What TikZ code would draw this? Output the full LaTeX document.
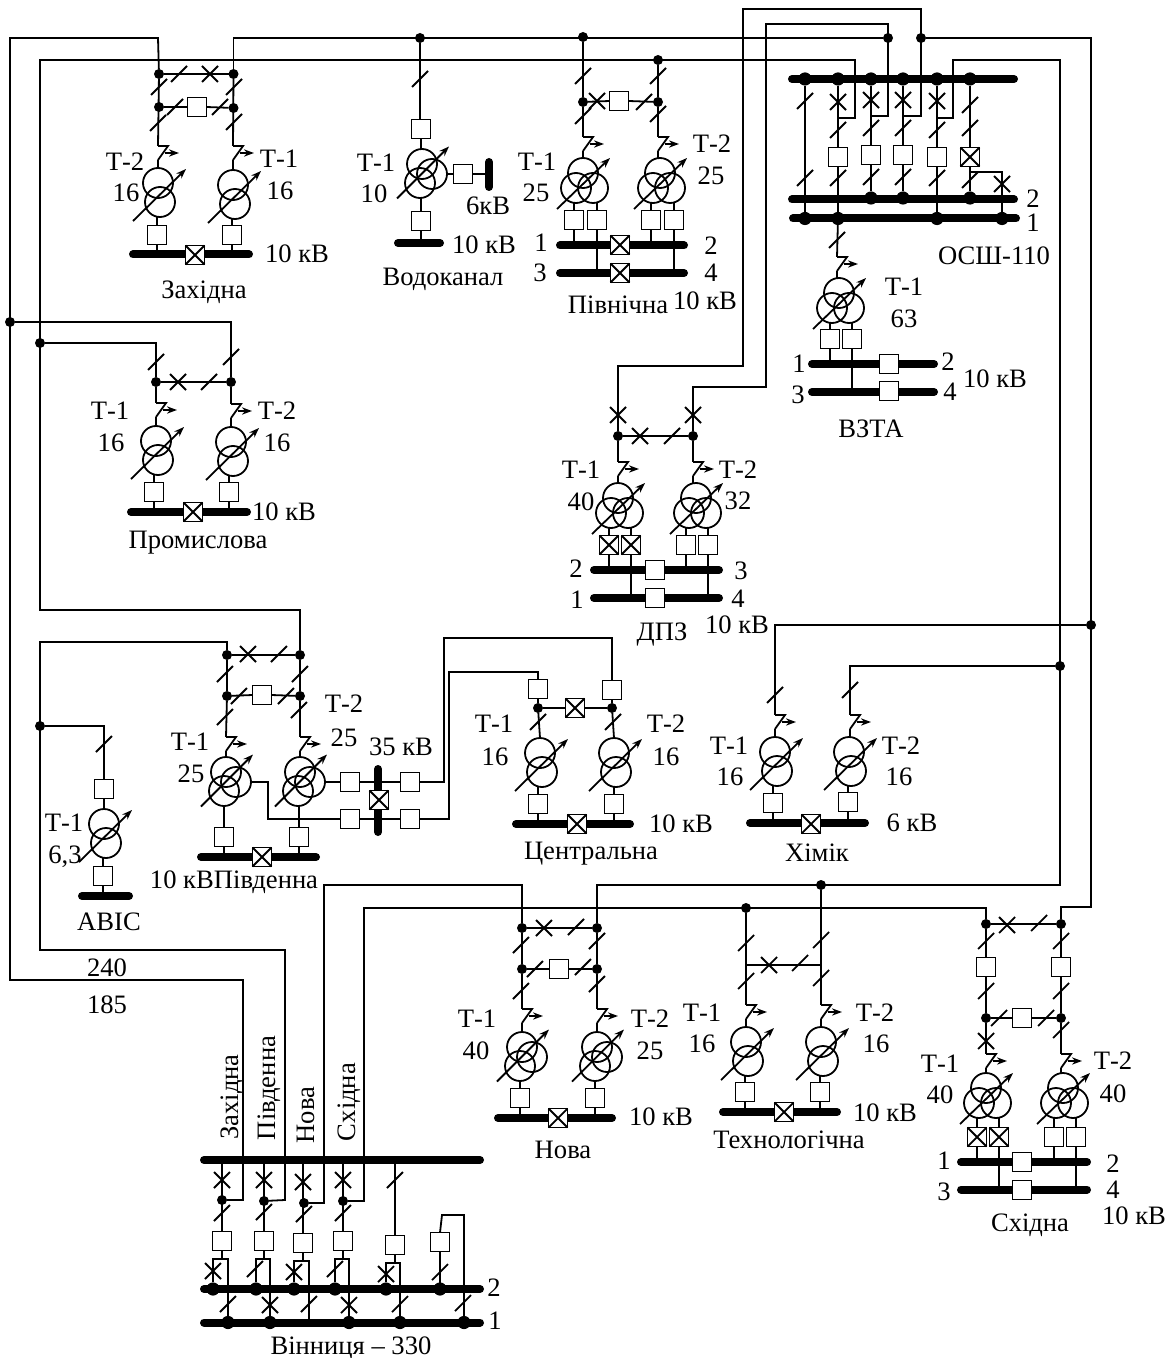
\documentclass[tikz,border=0pt]{standalone}
\usepackage{fontspec}
\setmainfont{Liberation Serif}
\usetikzlibrary{arrows.meta}

\tikzset{
	wire/.style={line width=.9pt},
	bus/.style={line width=4pt,line cap=round},
	tap/.style={wire,-{Stealth[length=5pt,width=3.6pt]}},
	breaker/.style={draw,line width=.9pt,fill=white,minimum size=9.5pt,inner sep=0pt,outer sep=0pt},
	winding/.style={draw,circle,line width=.9pt,minimum size=15pt,inner sep=0pt,outer sep=0pt},
	junction/.style={circle,fill=black,minimum size=5pt,inner sep=0pt,outer sep=0pt},
	busdot/.style={circle,fill=black,minimum size=6.6pt,inner sep=0pt,outer sep=0pt},
	lbl/.style={font=\fontsize{13.3}{16}\selectfont,inner sep=0pt,text height=9pt,text depth=0pt}
}

\newcommand{\brk}[3]{\node[breaker] (#1) at (#2,#3) {};}
\newcommand{\xbrk}[3]{\node[breaker] (#1) at (#2,#3) {};
	\draw[wire] (#1.north west) -- (#1.south east) (#1.north east) -- (#1.south west);}
\newcommand{\jn}[3]{\node[junction] (#1) at (#2,#3) {};}
\newcommand{\dotb}[3]{\node[busdot] (#1) at (#2,#3) {};}
\newcommand{\disc}[2]{\draw[wire] (#1-8,#2+8) -- (#1+8,#2-8);}
\newcommand{\crs}[2]{\draw[wire] (#1-8,#2+8) -- (#1+8,#2-8) (#1-8,#2-8) -- (#1+8,#2+8);}
\newcommand{\busbar}[4]{\coordinate (#1) at (#2,#4); \draw[bus] (#2+4,#4) -- (#3-4,#4);}
% vertical stub from a to the level of b
\newcommand{\drop}[2]{\draw[wire] (#1) -- (#1 |- #2);}
% earthing switch symbol on the way down to a transformer
\newcommand{\qsw}[3]{\coordinate (#1) at (#2,#3); \coordinate (#1e) at (#2,#3+14);
	\draw[wire] (#1) -- (#2+10,#3) -- (#1e);
	\draw[tap] (#2+7,#3+7) -- (#2+21,#3+7);}
\newcommand{\twotr}[3]{\node[winding] (#1) at (#2,#3) {}; \node[winding] (#1b) at (#2+2,#3+19) {};
	\draw[tap] (#2-25,#3+38) -- (#2+28,#3-14);}
\newcommand{\threetr}[3]{\node[winding] (#1) at (#2,#3) {}; \node[winding] (#1b) at (#2-7,#3+15) {};
	\node[winding] (#1r) at (#2+10,#3+15) {};
	\draw[tap] (#2-26,#3+36) -- (#2+27,#3-15);}
\newcommand{\autotr}[3]{\node[winding] (#1) at (#2,#3) {}; \node[winding] (#1b) at (#2-2,#3+19) {};
	\node[winding] (#1r) at (#2+10,#3+10) {};
	\draw[tap] (#2-25,#3+34.5) -- (#2+27,#3-17.5);}
\newcommand{\fork}[6]{\draw[wire] (#1.south) -- (#1.south |- 0,#4);
	\draw[wire] (#5) -- (#2,#4) -- (#3,#4) -- (#6);}

\begin{document}
\begin{tikzpicture}[x=.5pt,y=-.5pt]
	\useasboundingbox (0,0) rectangle (1171,1358);

	% Zakhidna
	\busbar{zhb}{129}{253}{254.5}
	\xbrk{zhq}{195}{255}
	\brk{zhb1}{157}{235}
	\brk{zhb2}{232}{235}
	\brk{zhb3}{197}{107}
	\twotr{zhT2}{158}{183}
	\twotr{zhT1}{233}{185}
	\qsw{zhs2}{158}{146}
	\qsw{zhs1}{233}{146}
	\jn{zhj1}{159}{74}
	\jn{zhj2}{233.5}{74}
	\jn{zhj3}{159}{107}
	\jn{zhj4}{233.5}{108}
	\draw[wire] (zhj1) -- (zhj2);
	\draw[wire] (zhj1) -- (zhs2) (zhj2) -- (zhs1) (zhs2e) -- (zhT2.north) (zhs1e) -- (zhT1.north);
	\draw[wire] (zhj3) -- (zhb3.west) (zhb3.east) -- (zhj4);
	\drop{zhb1.north}{zhT2b.south} \drop{zhb2.north}{zhT1b.south}
	\drop{zhb1.south}{zhb} \drop{zhb2.south}{zhb}
	\disc{179}{74} \crs{210}{74} \disc{159}{87} \disc{158}{123}
	\disc{175}{107} \disc{220}{107} \disc{234}{87} \disc{234}{122}
	\node[lbl] (zhl1) at (125,162) {Т-2};
	\node[lbl] (zhl2) at (126,193) {16};
	\node[lbl] (zhl3) at (279,159) {Т-1};
	\node[lbl] (zhl4) at (280,191) {16};
	\node[lbl] (zhl5) at (297,254) {10 кВ};
	\node[lbl] (zhl6) at (204,290) {Західна};

	% Vodokanal
	\busbar{vdb}{394}{444}{243}
	\draw[bus] (489,162) -- (489,187);
	\coordinate (vdb2) at (489,174);
	\brk{vdb1}{421}{129}
	\brk{vdb3}{421}{221}
	\brk{vdb4}{463}{174}
	\autotr{vdT1}{422}{164}
	\jn{vdj1}{420}{38}
	\drop{vdj1}{vdb1.north}
	\drop{vdb1.south}{vdT1.north}
	\drop{vdb3.north}{vdT1b.south}
	\drop{vdb3.south}{vdb}
	\draw[wire] (vdT1r.east) -- (vdb4.west) (vdb4.east) -- (vdb2);
	\disc{420}{79}
	\node[lbl] (vdl1) at (376,163) {Т-1};
	\node[lbl] (vdl2) at (374,194) {10};
	\node[lbl] (vdl3) at (488,206) {6кВ};
	\node[lbl] (vdl4) at (484,245) {10 кВ};
	\node[lbl] (vdl5) at (443,277) {Водоканал};

	% Pivnichna
	\busbar{pvb1}{556}{688}{245.5}
	\busbar{pvb2}{556}{688}{273}
	\xbrk{pvq1}{620}{245}
	\xbrk{pvq2}{620}{273}
	\brk{pva1}{574}{220}
	\brk{pva2}{597}{220}
	\brk{pva3}{651}{220}
	\brk{pva4}{674}{220}
	\brk{pva5}{619}{101}
	\threetr{pvT1}{583}{173}
	\threetr{pvT2}{660}{173}
	\qsw{pvs1}{583}{137}
	\qsw{pvs2}{658}{137}
	\jn{pvj1}{583}{37}
	\jn{pvj2}{658}{60}
	\jn{pvj3}{583}{102}
	\jn{pvj4}{658}{102}
	\draw[wire] (pvj1) -- (pvj3) -- (pvs1) (pvs1e) -- (pvs1e |- pvT1.north);
	\draw[wire] (pvj2) -- (pvj4) -- (pvs2) (pvs2e) -- (pvs2e |- pvT2.north);
	\draw[wire] (pvj3) -- (pva5.west) (pva5.east) -- (pvj4);
	\drop{pva1.north}{pvT1b.south} \drop{pva2.north}{pvT1r.south}
	\drop{pva3.north}{pvT2b.south} \drop{pva4.north}{pvT2r.south}
	\drop{pva1.south}{pvb1} \drop{pva2.south}{pvb2} \drop{pva3.south}{pvb1} \drop{pva4.south}{pvb2}
	\disc{583}{76} \disc{583}{116} \disc{658}{76} \disc{658}{114} \crs{597}{101} \disc{644}{102}
	\node[lbl] (pvl1) at (537,162) {Т-1};
	\node[lbl] (pvl2) at (536,193) {25};
	\node[lbl] (pvl3) at (712,144) {Т-2};
	\node[lbl] (pvl4) at (711,176) {25};
	\node[lbl] (pvl5) at (541,243) {1};
	\node[lbl] (pvl6) at (540,273) {3};
	\node[lbl] (pvl7) at (711,246) {2};
	\node[lbl] (pvl8) at (711,273) {4};
	\node[lbl] (pvl9) at (705,301) {10 кВ};
	\node[lbl] (pvl10) at (618,305) {Північна};

	% OSSh-110
	\busbar{osb0}{788}{1018}{79}
	\busbar{osb2}{788}{1018}{199.5}
	\busbar{osb1}{789}{1020}{218.5}
	\foreach \x in {805,838,871,903,937,970} {\dotb{osa\x}{\x}{79}}
	\foreach \x in {871,903,970} {\dotb{osc\x}{\x}{198}}
	\foreach \x in {805,838,937,1002} {\dotb{osd\x}{\x}{218.5}}
	\brk{osq1}{838}{157}
	\brk{osq2}{871}{155}
	\brk{osq3}{903}{155}
	\brk{osq4}{937}{157}
	\xbrk{osq5}{970}{157}
	\draw[wire] (osa805) -- (osd805);
	\draw[wire] (osa838) -- (osq1.north) (osq1.south) -- (osd838);
	\draw[wire] (osa871) -- (osq2.north) (osq2.south) -- (osc871);
	\draw[wire] (osa903) -- (osq3.north) (osq3.south) -- (osc903);
	\draw[wire] (osa937) -- (osq4.north) (osq4.south) -- (osd937);
	\draw[wire] (osa970) -- (osq5.north) (osq5.south) -- (osc970);
	\draw[wire] (970,172) -- (1002,172) -- (osd1002);
	\coordinate (osf1) at (838,118);
	\coordinate (osf2) at (871,116);
	\coordinate (osf3) at (903,116);
	\coordinate (osf4) at (937,118);
	\disc{805}{101} \disc{805}{178}
	\crs{838}{102} \disc{838}{130} \disc{838}{178}
	\crs{871}{100} \disc{871}{128} \disc{871}{177}
	\crs{903}{100} \disc{903}{128} \disc{903}{177}
	\crs{937}{101} \disc{937}{130} \disc{937}{178}
	\disc{970}{105} \disc{970}{128} \disc{970}{180} \crs{1002}{184}
	\node[lbl] (osl1) at (1033,199) {2};
	\node[lbl] (osl2) at (1033,223) {1};
	\node[lbl] (osl3) at (994,256) {ОСШ-110};

	% VZTA
	\busbar{vzb1}{808}{938}{364}
	\busbar{vzb2}{808}{938}{392}
	\brk{vzq1}{889}{364}
	\brk{vzq2}{889}{391}
	\brk{vza1}{830}{339}
	\brk{vza2}{852}{339}
	\threetr{vzT1}{839}{293}
	\qsw{vzs1}{837}{257}
	\draw[wire] (osd838) -- (vzs1);
	\draw[wire] (vzs1e) -- (vzs1e |- vzT1.north);
	\drop{vza1.north}{vzT1b.south} \drop{vza2.north}{vzT1r.south}
	\drop{vza1.south}{vzb1} \drop{vza2.south}{vzb2}
	\disc{837}{240}
	\node[lbl] (vzl1) at (904,287) {Т-1};
	\node[lbl] (vzl2) at (904,319) {63};
	\node[lbl] (vzl3) at (799,363) {1};
	\node[lbl] (vzl4) at (798,394) {3};
	\node[lbl] (vzl5) at (948,362) {2};
	\node[lbl] (vzl6) at (950,391) {4};
	\node[lbl] (vzl7) at (995,378) {10 кВ};
	\node[lbl] (vzl8) at (871,428) {ВЗТА};

	% DPZ
	\busbar{dpb1}{590}{723}{570}
	\busbar{dpb2}{590}{723}{598}
	\brk{dpq1}{655}{570}
	\brk{dpq2}{655}{598}
	\xbrk{dpa1}{609}{545}
	\xbrk{dpa2}{631}{545}
	\brk{dpa3}{686}{545}
	\brk{dpa4}{708}{545}
	\threetr{dpT1}{618}{498}
	\threetr{dpT2}{696}{498}
	\qsw{dps1}{618}{462}
	\qsw{dps2}{693}{462}
	\jn{dpj1}{618}{436}
	\jn{dpj2}{693}{436}
	\draw[wire] (dpj1) -- (dpj2);
	\draw[wire] (dpj1) -- (dps1) (dps1e) -- (dps1e |- dpT1.north);
	\draw[wire] (dpj2) -- (dps2) (dps2e) -- (dps2e |- dpT2.north);
	\drop{dpa1.north}{dpT1b.south} \drop{dpa2.north}{dpT1r.south}
	\drop{dpa3.north}{dpT2b.south} \drop{dpa4.north}{dpT2r.south}
	\drop{dpa1.south}{dpb1} \drop{dpa2.south}{dpb2} \drop{dpa3.south}{dpb1} \drop{dpa4.south}{dpb2}
	\crs{618}{415} \crs{693}{415} \crs{640}{436} \disc{672}{436}
	\node[lbl] (dpl1) at (581,469) {Т-1};
	\node[lbl] (dpl2) at (581,501) {40};
	\node[lbl] (dpl3) at (738,469) {Т-2};
	\node[lbl] (dpl4) at (738,500) {32};
	\node[lbl] (dpl5) at (576,568) {2};
	\node[lbl] (dpl6) at (741,570) {3};
	\node[lbl] (dpl7) at (577,599) {1};
	\node[lbl] (dpl8) at (738,598) {4};
	\node[lbl] (dpl9) at (737,624) {10 кВ};
	\node[lbl] (dpl10) at (662,631) {ДПЗ};

	% Promyslova
	\busbar{prb}{127}{251}{512}
	\xbrk{prq}{193}{512}
	\brk{pra1}{154}{492}
	\brk{pra2}{229}{492}
	\twotr{prT1}{156}{441}
	\twotr{prT2}{231}{442}
	\qsw{prs1}{156}{403}
	\qsw{prs2}{231}{404}
	\jn{prj1}{10}{322}
	\jn{prj2}{40}{343}
	\jn{prj3}{156}{382}
	\jn{prj4}{231}{382}
	\draw[wire] (prj3) -- (prj4);
	\draw[wire] (prj2) -- (156,343) -- (prj3) -- (prs1) (prs1e) -- (prT1.north);
	\draw[wire] (prj1) -- (231,322) -- (prj4) -- (prs2) (prs2e) -- (prT2.north);
	\drop{pra1.north}{prT1b.south} \drop{pra2.north}{prT2b.south}
	\drop{pra1.south}{prb} \drop{pra2.south}{prb}
	\disc{156}{362} \disc{231}{357} \crs{178}{382} \disc{209}{382}
	\node[lbl] (prl1) at (110,410) {Т-1};
	\node[lbl] (prl2) at (111,442) {16};
	\node[lbl] (prl3) at (277,410) {Т-2};
	\node[lbl] (prl4) at (277,442) {16};
	\node[lbl] (prl5) at (284,511) {10 кВ};
	\node[lbl] (prl6) at (198,539) {Промислова};

	% Pivdenna
	\busbar{pdb}{197}{320}{857}
	\draw[bus] (378,769) -- (378,832);
	\xbrk{pdq}{262}{857}
	\xbrk{pdq2}{379}{800}
	\brk{pda1}{224}{837}
	\brk{pda2}{299}{837}
	\brk{pda3}{262}{695}
	\brk{pda4}{350}{782}
	\brk{pda5}{410}{782}
	\brk{pda6}{350}{819}
	\brk{pda7}{410}{819}
	\autotr{pdT1}{226}{772}
	\autotr{pdT2}{300}{772}
	\qsw{pds1}{226}{737}
	\qsw{pds2}{300}{737}
	\jn{pdj1}{227}{655}
	\jn{pdj2}{300}{655}
	\jn{pdj3}{227}{696}
	\jn{pdj4}{300}{696}
	\draw[wire] (pdj1) -- (pdj2);
	\draw[wire] (pdj1) -- (pdj3) -- (pds1) (pds1e) -- (pdT1.north);
	\draw[wire] (pdj2) -- (pdj4) -- (pds2) (pds2e) -- (pdT2.north);
	\draw[wire] (pdj3) -- (pda3.west) (pda3.east) -- (pdj4);
	\drop{pda1.north}{pdT1b.south} \drop{pda2.north}{pdT2b.south}
	\drop{pda1.south}{pdb} \drop{pda2.south}{pdb}
	\draw[wire] (pdT2r.east) -- (pda4.west) (pda4.east) -- (pda5.west);
	\draw[wire] (pdT1r.east) -- (268,782) -- (268,819) -- (pda6.west) (pda6.east) -- (pda7.west);
	\crs{248}{654} \disc{279}{654} \disc{225}{674} \disc{225}{717} \disc{300}{674} \disc{299}{710}
	\disc{239}{696} \disc{286}{696}
	\node[lbl] (pdl1) at (190,741) {Т-1};
	\node[lbl] (pdl2) at (191,773) {25};
	\node[lbl] (pdl3) at (344,703) {Т-2};
	\node[lbl] (pdl4) at (344,737) {25};
	\node[lbl] (pdl5) at (401,746) {35 кВ};
	\node[lbl] (pdl6) at (234,879) {10 кВПівденна};

	% AVIS
	\busbar{avb}{78}{133}{896}
	\brk{ava1}{104}{789}
	\brk{ava2}{103}{876}
	\twotr{avT1}{104}{824}
	\jn{avj1}{40}{726}
	\draw[wire] (avj1) -- (104,726) -- (ava1.north) (ava1.south) -- (avT1.north);
	\drop{ava2.north}{avT1b.south} \drop{ava2.south}{avb}
	\disc{104}{744}
	\node[lbl] (avl1) at (64,822) {Т-1};
	\node[lbl] (avl2) at (65,854) {6,3};
	\node[lbl] (avl3) at (109,921) {АВІС};
	\node[lbl] (avl4) at (107,967) {240};
	\node[lbl] (avl5) at (107,1004) {185};

	% Tsentralna
	\busbar{ceb}{512}{634}{824}
	\xbrk{ceq}{577}{824}
	\xbrk{ceq2}{575}{708}
	\brk{cea1}{538}{689}
	\brk{cea2}{612}{690}
	\brk{cea3}{538}{804}
	\brk{cea4}{614}{804}
	\twotr{ceT1}{540}{753}
	\twotr{ceT2}{614}{753}
	\jn{cej1}{538}{708}
	\jn{cej2}{612}{708}
	\draw[wire] (cea1.south) -- (cej1) (cea2.south) -- (cej2);
	\draw[wire] (cej1) -- (ceq2.west) (ceq2.east) -- (cej2);
	\draw[wire] (cej1) -- (ceT1.north) (cej2) -- (ceT2.north);
	\drop{cea3.north}{ceT1b.south} \drop{cea4.north}{ceT2b.south}
	\drop{cea3.south}{ceb} \drop{cea4.south}{ceb}
	\disc{538}{722} \disc{613}{722}
	\node[lbl] (cel1) at (494,723) {Т-1};
	\node[lbl] (cel2) at (495,756) {16};
	\node[lbl] (cel3) at (666,723) {Т-2};
	\node[lbl] (cel4) at (666,756) {16};
	\node[lbl] (cel5) at (681,823) {10 кВ};
	\node[lbl] (cel6) at (591,850) {Центральна};
	% Pivdenna to Tsentralna
	\draw[wire] (pda5.east) -- (444,782) -- (444,638) -- (612,638) -- (cea2.north);
	\draw[wire] (pda7.east) -- (449,819) -- (449,672) -- (538,672) -- (cea1.north);

	% Khimik
	\busbar{hib}{746}{869}{823}
	\xbrk{hiq}{811}{824}
	\brk{hia1}{773}{803}
	\brk{hia2}{848}{802}
	\twotr{hiT1}{775}{752}
	\twotr{hiT2}{849}{752}
	\qsw{his1}{775}{715}
	\qsw{his2}{850}{715}
	\jn{hij1}{1091}{625}
	\jn{hij2}{1060}{666}
	\draw[wire] (hij1) -- (775,625) -- (his1) (his1e) -- (hiT1.north);
	\draw[wire] (hij2) -- (850,666) -- (his2) (his2e) -- (his2e |- hiT2.north);
	\drop{hia1.north}{hiT1b.south} \drop{hia2.north}{hiT2b.south}
	\drop{hia1.south}{hib} \drop{hia2.south}{hib}
	\disc{775}{695} \disc{850}{690}
	\node[lbl] (hil1) at (729,745) {Т-1};
	\node[lbl] (hil2) at (730,776) {16};
	\node[lbl] (hil3) at (901,745) {Т-2};
	\node[lbl] (hil4) at (899,776) {16};
	\node[lbl] (hil5) at (912,822) {6 кВ};
	\node[lbl] (hil6) at (817,852) {Хімік};

	% Nova
	\busbar{nvb}{494}{616}{1118}
	\xbrk{nvq}{558}{1118}
	\brk{nva1}{520}{1098}
	\brk{nva2}{595}{1098}
	\brk{nva3}{559}{969}
	\autotr{nvT1}{522}{1047}
	\autotr{nvT2}{597}{1047}
	\qsw{nvs1}{522}{1009}
	\qsw{nvs2}{597}{1009}
	\jn{nvj1}{522}{928}
	\jn{nvj2}{597}{928}
	\jn{nvj3}{522}{969}
	\jn{nvj4}{597}{969}
	\draw[wire] (nvj1) -- (nvj2);
	\draw[wire] (nvj1) -- (nvj3) -- (nvs1) (nvs1e) -- (nvT1.north);
	\draw[wire] (nvj2) -- (nvj4) -- (nvs2) (nvs2e) -- (nvT2.north);
	\draw[wire] (nvj3) -- (nva3.west) (nva3.east) -- (nvj4);
	\drop{nva1.north}{nvT1b.south} \drop{nva2.north}{nvT2b.south}
	\drop{nva1.south}{nvb} \drop{nva2.south}{nvb}
	\crs{544}{928} \disc{576}{927} \disc{521}{945} \disc{521}{991} \disc{597}{941} \disc{597}{984}
	\disc{535}{969} \disc{583}{967}
	\node[lbl] (nvl1) at (477,1018) {Т-1};
	\node[lbl] (nvl2) at (476,1050) {40};
	\node[lbl] (nvl3) at (650,1018) {Т-2};
	\node[lbl] (nvl4) at (650,1050) {25};
	\node[lbl] (nvl5) at (661,1116) {10 кВ};
	\node[lbl] (nvl6) at (563,1149) {Нова};

	% Tekhnologichna
	\busbar{thb}{719}{841}{1112}
	\xbrk{thq}{784}{1112}
	\brk{tha1}{745}{1092}
	\brk{tha2}{820}{1092}
	\twotr{thT1}{746}{1042}
	\twotr{thT2}{821}{1042}
	\qsw{ths1}{746}{1005}
	\qsw{ths2}{821}{1005}
	\jn{thj1}{746}{908}
	\jn{thj2}{821}{885}
	\draw[wire] (thj1) -- (ths1) (ths1e) -- (thT1.north);
	\draw[wire] (thj2) -- (ths2) (ths2e) -- (thT2.north);
	\draw[wire] (746,965) -- (821,965);
	\drop{tha1.north}{thT1b.south} \drop{tha2.north}{thT2b.south}
	\drop{tha1.south}{thb} \drop{tha2.south}{thb}
	\disc{746}{943} \disc{746}{981} \disc{821}{940} \disc{821}{978} \crs{769}{965} \disc{800}{963}
	\node[lbl] (thl1) at (702,1012) {Т-1};
	\node[lbl] (thl2) at (702,1043) {16};
	\node[lbl] (thl3) at (875,1012) {Т-2};
	\node[lbl] (thl4) at (876,1043) {16};
	\node[lbl] (thl5) at (885,1112) {10 кВ};
	\node[lbl] (thl6) at (789,1139) {Технологічна};

	% Skhidna
	\busbar{shb1}{957}{1091}{1162}
	\busbar{shb2}{957}{1091}{1189.5}
	\brk{shq1}{1022}{1162}
	\brk{shq2}{1022}{1190}
	\xbrk{sha1}{977}{1137}
	\xbrk{sha2}{999}{1137}
	\brk{sha3}{1054}{1137}
	\brk{sha4}{1076}{1137}
	\brk{sha5}{986}{967}
	\brk{sha6}{1061}{967}
	\brk{sha7}{1022}{1018}
	\threetr{shT1}{986}{1088}
	\threetr{shT2}{1063}{1088}
	\qsw{shs1}{986}{1054}
	\qsw{shs2}{1061}{1054}
	\jn{shj1}{986}{924}
	\jn{shj2}{1061}{924}
	\jn{shj3}{986}{1018}
	\jn{shj4}{1061}{1018}
	\draw[wire] (shj1) -- (shj2);
	\draw[wire] (shj1) -- (sha5.north) (sha5.south) -- (shj3) -- (shs1) (shs1e) -- (shT1.north);
	\draw[wire] (shj2) -- (sha6.north) (sha6.south) -- (shj4) -- (shs2) (shs2e) -- (shs2e |- shT2.north);
	\draw[wire] (shj3) -- (sha7.west) (sha7.east) -- (shj4);
	\drop{sha1.north}{shT1b.south} \drop{sha2.north}{shT1r.south}
	\drop{sha3.north}{shT2b.south} \drop{sha4.north}{shT2r.south}
	\drop{sha1.south}{shb1} \drop{sha2.south}{shb2} \drop{sha3.south}{shb1} \drop{sha4.south}{shb2}
	\crs{1007}{925} \disc{1039}{923} \disc{986}{941} \disc{986}{991} \disc{1061}{941} \disc{1061}{991}
	\crs{986}{1041} \disc{1061}{1030} \disc{999}{1018} \disc{1046}{1018}
	\node[lbl] (shl1) at (940,1063) {Т-1};
	\node[lbl] (shl2) at (940,1094) {40};
	\node[lbl] (shl3) at (1113,1060) {Т-2};
	\node[lbl] (shl4) at (1113,1093) {40};
	\node[lbl] (shl5) at (944,1160) {1};
	\node[lbl] (shl6) at (944,1191) {3};
	\node[lbl] (shl7) at (1113,1163) {2};
	\node[lbl] (shl8) at (1113,1189) {4};
	\node[lbl] (shl9) at (1134,1215) {10 кВ};
	\node[lbl] (shl10) at (1030,1222) {Східна};

	% Vinnytsia-330
	\busbar{vnb0}{200}{484}{1160}
	\busbar{vnb2}{200}{484}{1289}
	\busbar{vnb1}{200}{484}{1322.5}
	\foreach \x in {213,256,294,335,386,440} {\dotb{vnc\x}{\x}{1289}}
	\foreach \x in {228,270,349,400,464} {\dotb{vnd\x}{\x}{1322.5}}
	\coordinate (vnd309) at (309,1322.5);
	\brk{vnq1}{222}{1241}
	\brk{vnq2}{264}{1241}
	\brk{vnq3}{303}{1243}
	\brk{vnq4}{343}{1241}
	\brk{vnq5}{395}{1245}
	\brk{vnq6}{440}{1242}
	\jn{vnj1}{222}{1200}
	\jn{vnj2}{264}{1201}
	\jn{vnj3}{304}{1203}
	\jn{vnj4}{343}{1201}
	\draw[wire] (vnq1.north) -- (vnq1.north |- vnb0);
	\draw[wire] (vnq2.north) -- (vnq2.north |- vnb0);
	\draw[wire] (vnq3.north) -- (vnq3.north |- vnb0);
	\draw[wire] (vnq4.north) -- (vnq4.north |- vnb0);
	\draw[wire] (vnq5.north) -- (vnq5.north |- vnb0);
	\fork{vnq1}{213}{228}{1259}{vnc213}{vnd228}
	\fork{vnq2}{256}{270}{1259}{vnc256}{vnd270}
	\fork{vnq3}{294}{309}{1261}{vnc294}{vnd309}
	\fork{vnq4}{335}{349}{1259}{vnc335}{vnd349}
	\fork{vnq5}{386}{400}{1263}{vnc386}{vnd400}
	\drop{vnq6.south}{vnc440}
	\draw[wire] (vnq6.north) -- (442,1215) -- (464,1215) -- (vnd464);
	\crs{222}{1180} \disc{222}{1213} \crs{213}{1271} \disc{228}{1304}
	\crs{264}{1180} \disc{264}{1212} \disc{255}{1269} \crs{270}{1305}
	\crs{303}{1182} \disc{304}{1214} \crs{294}{1272} \disc{309}{1304}
	\crs{343}{1180} \disc{343}{1213} \disc{335}{1269} \crs{349}{1305}
	\disc{395}{1180} \crs{386}{1274} \disc{400}{1304}
	\disc{440}{1272} \disc{463}{1303}
	\node[lbl,rotate=90] (vnl1) at (229,1097) {Західна};
	\node[lbl,rotate=90] (vnl2) at (266,1088) {Південна};
	\node[lbl,rotate=90] (vnl3) at (305,1115) {Нова};
	\node[lbl,rotate=90] (vnl4) at (346,1102) {Східна};
	\node[lbl] (vnl5) at (494,1287) {2};
	\node[lbl] (vnl6) at (495,1320) {1};
	\node[lbl] (vnl7) at (351,1345) {Вінниця – 330};

	% long feeders
	\jn{osj1}{888}{38}
	\jn{osj2}{921}{38}
	\draw[wire] (vnj1) -- (243,1200) -- (243,980) -- (10,980) -- (10,38) -- (158,38) -- (zhj1);
	\draw[wire] (vnj2) -- (285,1200) -- (285,950) -- (40,950) -- (40,642) -- (227,642) -- (pdj1);
	\draw[wire] (pdj2) -- (300,610) -- (40,610) -- (40,60) -- (855,60) -- (855,118) -- (osf1);
	\draw[wire] (zhj2) -- (233.5,38) -- (osj1);
	\draw[wire] (osf2) -- (888,116) -- (888,24) -- (766,24) -- (766,387) -- (693,387) -- (dpj2);
	\draw[wire] (osf3) -- (921,116) -- (921,9) -- (743,9) -- (743,366) -- (618,366) -- (dpj1);
	\draw[wire] (osj2) -- (1091,38) -- (1091,907) -- (1061,907) -- (shj2);
	\draw[wire] (osf4) -- (953,118) -- (953,60) -- (1060,60) -- (1060,885) -- (597,885) -- (nvj2);
	\draw[wire] (vnj3) -- (324,1203) -- (324,885) -- (522,885) -- (nvj1);
	\draw[wire] (vnj4) -- (364,1201) -- (364,908) -- (986,908) -- (shj1);
\end{tikzpicture}
\end{document}
